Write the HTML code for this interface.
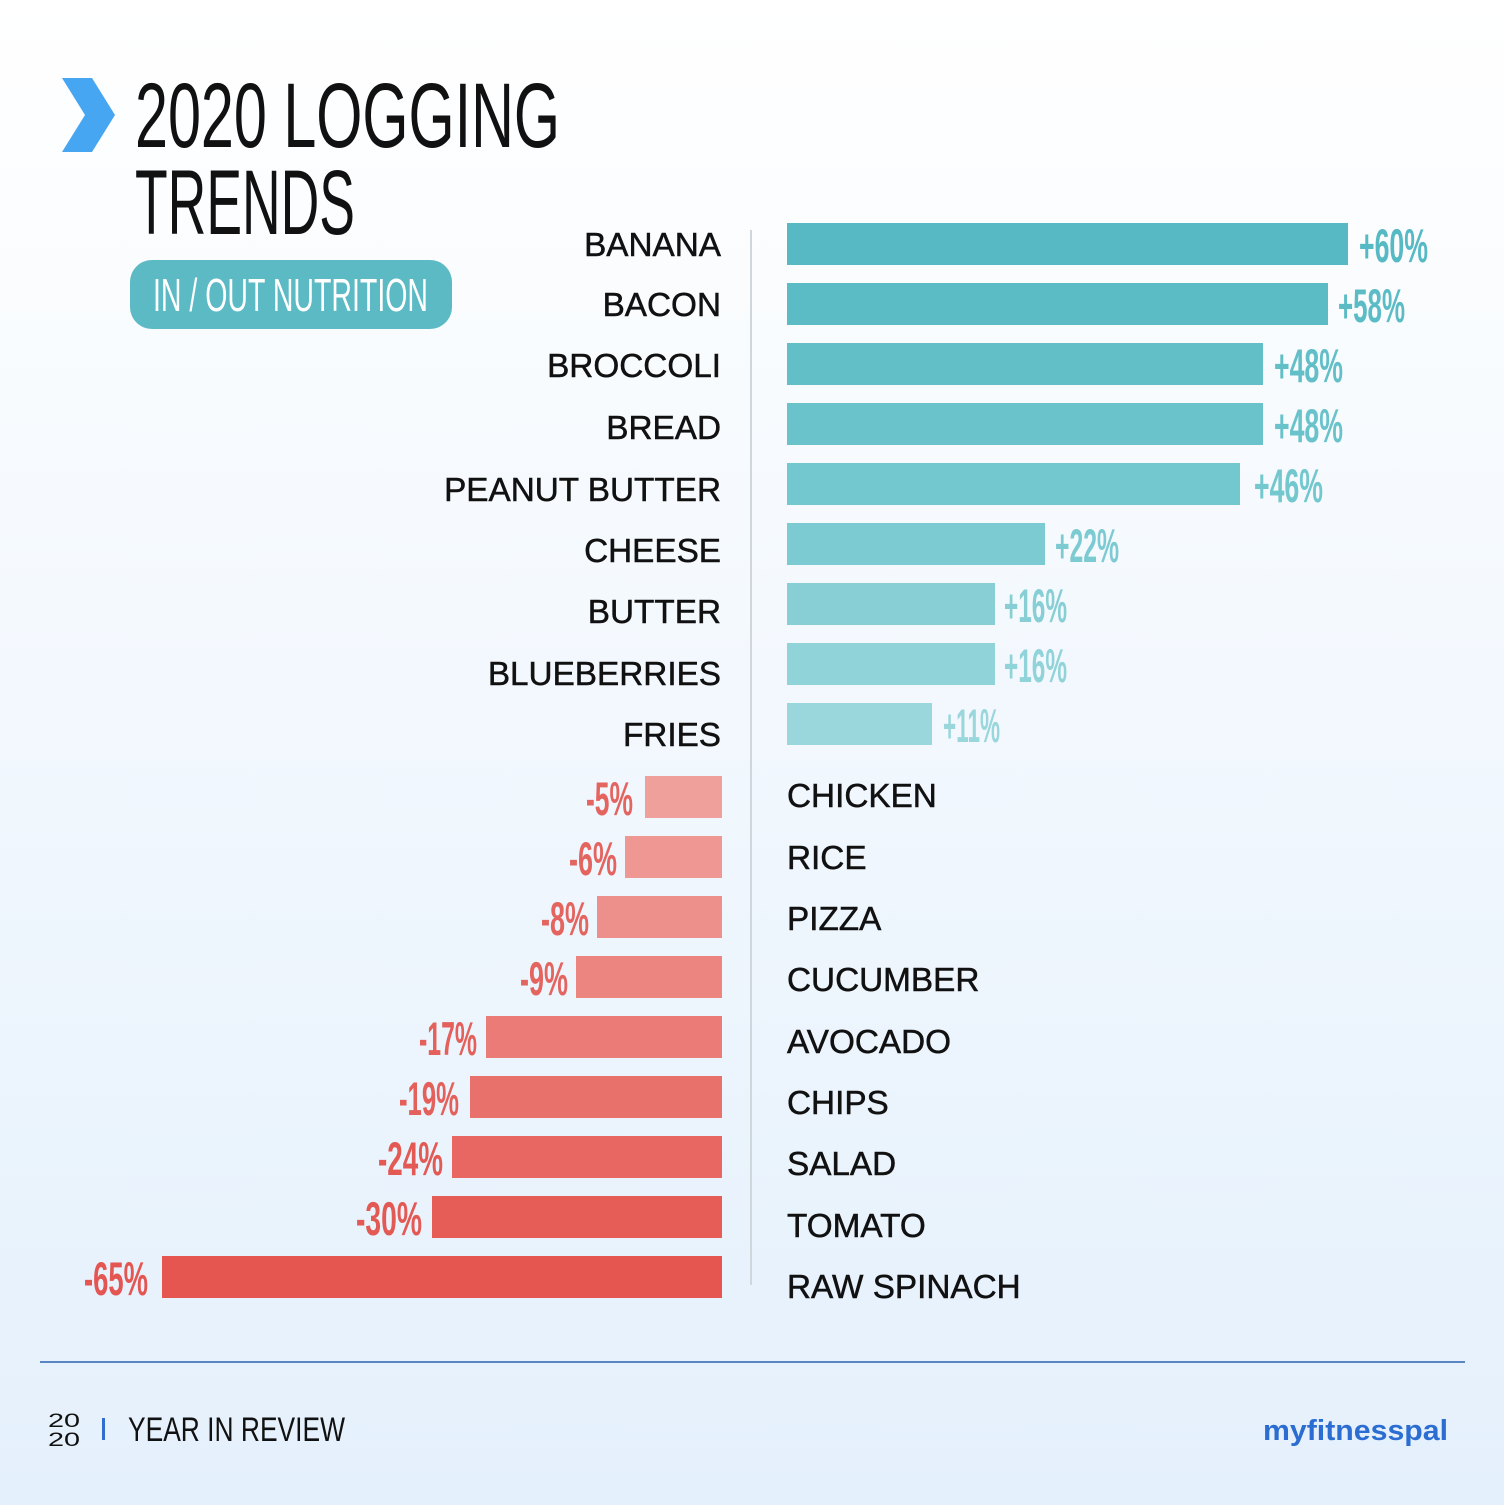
<!DOCTYPE html>
<html><head><meta charset="utf-8"><style>
html,body{margin:0;padding:0;}
body{width:1504px;height:1505px;overflow:hidden;}
</style></head><body>
<svg width="1504" height="1505" viewBox="0 0 1504 1505" xmlns="http://www.w3.org/2000/svg">
<defs>
<linearGradient id="bg" x1="0" y1="0" x2="0" y2="1">
<stop offset="0" stop-color="#ffffff"/><stop offset="1" stop-color="#e4f0fc"/>
</linearGradient>
</defs>
<rect width="1504" height="1505" fill="url(#bg)"/>
<polygon points="62,78 92,78 115,115 92,152 62,152 85,115" fill="#47a6f2"/>
<g font-family="Liberation Sans, sans-serif" fill="#111">
<text x="135" y="147" font-size="92" textLength="425" lengthAdjust="spacingAndGlyphs">2020 LOGGING</text>
<text x="135" y="234" font-size="92" textLength="220" lengthAdjust="spacingAndGlyphs">TRENDS</text>
</g>
<rect x="130" y="260" width="322" height="69" rx="22" fill="#5bbac4"/>
<text x="153" y="311" font-family="Liberation Sans, sans-serif" font-size="46" fill="#fff" textLength="275" lengthAdjust="spacingAndGlyphs">IN / OUT NUTRITION</text>
<line x1="751" y1="230" x2="751" y2="1285" stroke="#cfd6dc" stroke-width="2"/>
<g font-family="Liberation Sans, sans-serif" font-size="33.3" fill="#111" stroke="#111" stroke-width="0.5" text-anchor="end">
<text x="721" y="256">BANANA</text>
<text x="721" y="316">BACON</text>
<text x="721" y="377">BROCCOLI</text>
<text x="721" y="439">BREAD</text>
<text x="721" y="501">PEANUT BUTTER</text>
<text x="721" y="562">CHEESE</text>
<text x="721" y="623">BUTTER</text>
<text x="721" y="685">BLUEBERRIES</text>
<text x="721" y="746">FRIES</text>
</g>
<g font-family="Liberation Sans, sans-serif" font-size="33.3" fill="#111" stroke="#111" stroke-width="0.5">
<text x="787" y="807">CHICKEN</text>
<text x="787" y="869">RICE</text>
<text x="787" y="930">PIZZA</text>
<text x="787" y="991">CUCUMBER</text>
<text x="787" y="1053">AVOCADO</text>
<text x="787" y="1114">CHIPS</text>
<text x="787" y="1175">SALAD</text>
<text x="787" y="1237">TOMATO</text>
<text x="787" y="1298">RAW SPINACH</text>
</g>
<rect x="787" y="223" width="561" height="42" fill="#56b9c4"/>
<rect x="787" y="283" width="541" height="42" fill="#5bbcc6"/>
<rect x="787" y="343" width="476" height="42" fill="#62bfc8"/>
<rect x="787" y="403" width="476" height="42" fill="#6ac3cb"/>
<rect x="787" y="463" width="453" height="42" fill="#73c7ce"/>
<rect x="787" y="523" width="258" height="42" fill="#7dcbd2"/>
<rect x="787" y="583" width="208" height="42" fill="#87cfd5"/>
<rect x="787" y="643" width="208" height="42" fill="#90d3d9"/>
<rect x="787" y="703" width="145" height="42" fill="#9ad7dd"/>
<g font-family="Liberation Sans, sans-serif" font-weight="bold" font-size="47">
<text x="1359" y="262" fill="#56b9c4" textLength="69" lengthAdjust="spacingAndGlyphs">+60%</text>
<text x="1338" y="322" fill="#5bbcc6" textLength="67" lengthAdjust="spacingAndGlyphs">+58%</text>
<text x="1274" y="382" fill="#62bfc8" textLength="69" lengthAdjust="spacingAndGlyphs">+48%</text>
<text x="1274" y="442" fill="#6ac3cb" textLength="69" lengthAdjust="spacingAndGlyphs">+48%</text>
<text x="1254" y="502" fill="#73c7ce" textLength="69" lengthAdjust="spacingAndGlyphs">+46%</text>
<text x="1055" y="562" fill="#7dcbd2" textLength="64" lengthAdjust="spacingAndGlyphs">+22%</text>
<text x="1004" y="622" fill="#87cfd5" textLength="63" lengthAdjust="spacingAndGlyphs">+16%</text>
<text x="1004" y="682" fill="#90d3d9" textLength="63" lengthAdjust="spacingAndGlyphs">+16%</text>
<text x="943" y="742" fill="#9ad7dd" textLength="57" lengthAdjust="spacingAndGlyphs">+11%</text>
</g>
<rect x="645" y="776" width="77" height="42" fill="#f0a09b"/>
<rect x="625" y="836" width="97" height="42" fill="#ef9893"/>
<rect x="597" y="896" width="125" height="42" fill="#ed8f8a"/>
<rect x="576" y="956" width="146" height="42" fill="#ec8580"/>
<rect x="486" y="1016" width="236" height="42" fill="#ea7b76"/>
<rect x="470" y="1076" width="252" height="42" fill="#e9716c"/>
<rect x="452" y="1136" width="270" height="42" fill="#e86762"/>
<rect x="432" y="1196" width="290" height="42" fill="#e65d58"/>
<rect x="162" y="1256" width="560" height="42" fill="#e55651"/>
<g font-family="Liberation Sans, sans-serif" font-weight="bold" font-size="47">
<text x="586" y="815" fill="#e46560" textLength="47" lengthAdjust="spacingAndGlyphs">-5%</text>
<text x="569" y="875" fill="#e46560" textLength="48" lengthAdjust="spacingAndGlyphs">-6%</text>
<text x="541" y="935" fill="#e46560" textLength="48" lengthAdjust="spacingAndGlyphs">-8%</text>
<text x="520" y="995" fill="#e46560" textLength="48" lengthAdjust="spacingAndGlyphs">-9%</text>
<text x="419" y="1055" fill="#e3605b" textLength="58" lengthAdjust="spacingAndGlyphs">-17%</text>
<text x="399" y="1115" fill="#e3605b" textLength="60" lengthAdjust="spacingAndGlyphs">-19%</text>
<text x="378" y="1175" fill="#e35a55" textLength="65" lengthAdjust="spacingAndGlyphs">-24%</text>
<text x="356" y="1235" fill="#e35a55" textLength="66" lengthAdjust="spacingAndGlyphs">-30%</text>
<text x="84" y="1295" fill="#e35651" textLength="64" lengthAdjust="spacingAndGlyphs">-65%</text>
</g>
<line x1="40" y1="1362" x2="1465" y2="1362" stroke="#5a86c4" stroke-width="2"/>
<g font-family="Liberation Sans, sans-serif" fill="#111">
<text x="48" y="1427" font-size="19" textLength="32" lengthAdjust="spacingAndGlyphs">20</text>
<text x="48" y="1446" font-size="19" textLength="32" lengthAdjust="spacingAndGlyphs">20</text>
<text x="128" y="1441" font-size="34" textLength="217" lengthAdjust="spacingAndGlyphs">YEAR IN REVIEW</text>
</g>
<rect x="102" y="1418" width="3" height="22" fill="#2f6fd0"/>
<text x="1263" y="1440" font-family="Liberation Sans, sans-serif" font-weight="bold" font-size="29" fill="#2c6dd2" textLength="185" lengthAdjust="spacingAndGlyphs">myfitnesspal</text>
</svg>
</body></html>
